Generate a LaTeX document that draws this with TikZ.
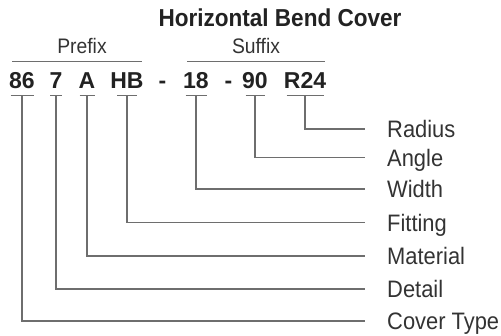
\documentclass[tikz,border=0pt]{standalone}
\usepackage{fontspec}
\setmainfont{Liberation Sans}
\newfontfamily\narrowsans[FakeStretch=0.92]{Liberation Sans}
\usetikzlibrary{calc}
\definecolor{ink}{HTML}{222222}
\definecolor{inklight}{HTML}{333333}
\definecolor{rule}{HTML}{6E6E6E}

\begin{document}
\begin{tikzpicture}[x=1pt, y=-1pt,
    title/.style={font=\narrowsans\bfseries\fontsize{24.5}{29}\selectfont, text=ink, inner sep=0pt, anchor=base},
    group/.style={font=\narrowsans\fontsize{21}{25}\selectfont, text=inklight, inner sep=0pt, text height=15pt, text depth=8pt, anchor=base},
    code/.style={font=\bfseries\fontsize{23}{28}\selectfont, text=ink, inner sep=0pt, text height=16.5pt, text depth=7pt, anchor=base},
    field/.style={font=\narrowsans\fontsize{23.8}{28}\selectfont, text=inklight, inner sep=0pt, text height=17pt, text depth=0pt, anchor=west},
    bar/.style={draw=rule, line width=1.1pt},
    leg/.style={draw=rule, line width=1.1pt}]
    \useasboundingbox (0,0) rectangle (501,335);

    \node[title] (head) at (280,26.5) {Horizontal Bend Cover};
    \node[group] (pre) at (82,53) {Prefix};
    \node[group] (suf) at (256,53) {Suffix};

    % part number
    \node[code] (c86) at (22,88) {86};
    \node[code] (c7) at (56,88) {7};
    \node[code] (cA) at (87,88) {A};
    \node[code] (cHB) at (127,88) {HB};
    \node[code] (d1) at (162.5,88) {-};
    \node[code] (c18) at (196,88) {18};
    \node[code] (d2) at (228.5,88) {-};
    \node[code] (c90) at (255,88) {90};
    \node[code] (cR) at (305,88) {R24};

    % field names
    \node[field] (lRadius) at (387,129) {Radius};
    \node[field] (lAngle) at (387,157.5) {Angle};
    \node[field] (lWidth) at (387,189) {Width};
    \node[field] (lFit) at (387,222.5) {Fitting};
    \node[field] (lMat) at (387,256) {Material};
    \node[field] (lDetail) at (387,289) {Detail};
    \node[field] (lType) at (387,321) {Cover Type};

    % prefix / suffix brackets
    \draw[bar] ([xshift=-70pt]pre.south) -- ([xshift=60pt]pre.south);
    \draw[bar] ([xshift=-69pt]suf.south) -- ([xshift=69pt]suf.south);

    % ticks and leader lines
    \foreach \n/\w/\l in {c86/11.5/lType, c7/6/lDetail, cA/7.5/lMat, cHB/10/lFit,
                          c18/10.5/lWidth, c90/9.5/lAngle, cR/18.5/lRadius} {
        \draw[bar] ([xshift=-\w pt]\n.south) -- ([xshift=\w pt]\n.south);
        \draw[leg] (\n.south) |- ([xshift=-22pt]\l.west);
    }
\end{tikzpicture}
\end{document}
